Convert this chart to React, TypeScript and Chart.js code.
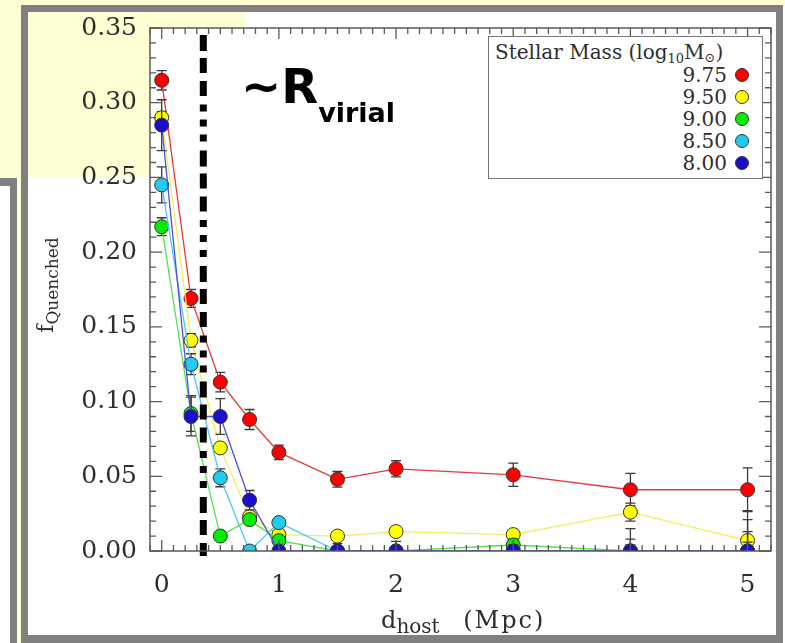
import React, { useEffect, useRef } from 'react';
import { Chart, registerables } from 'chart.js';

Chart.register(...registerables);

// ---------- data ----------
const distanceMpc = [0, 0.25, 0.5, 0.75, 1, 1.5, 2, 3, 4, 5];

const massLabels = ['9.75', '9.50', '9.00', '8.50', '8.00'];

const fq975 = [0.315, 0.169, 0.113, 0.088, 0.066, 0.048, 0.055, 0.051, 0.041, 0.041];
const err975 = [0.0065, 0.006, 0.0065, 0.0067, 0.0048, 0.0052, 0.0054, 0.0078, 0.0109, 0.0146];

const fq950 = [0.29, 0.141, 0.069, 0.023, 0.011, 0.01, 0.013, 0.011, 0.026, 0.007];
const err950 = [0.004, 0.0045, 0.003, 0.003, 0.002, 0.002, 0.002, 0.003, 0.006, 0.006];

const fq900 = [0.217, 0.092, 0.01, 0.021, 0.007, 0, 0, 0.004, 0, 0];
const err900 = [0.006, 0.012, 0.002, 0.003, 0.002, 0.002, 0.002, 0.004, 0.008, 0.021];

const fq850 = [0.245, 0.125, 0.049, 0, 0.019, 0, 0, 0, 0, 0];
const err850 = [0.012, 0.007, 0.006, 0.002, 0.003, 0.002, 0.002, 0.002, 0.004, 0.006];

const fq800 = [0.285, 0.09, 0.09, 0.034, 0, 0, 0, 0, 0, 0];
const err800 = [0.017, 0.013, 0.012, 0.0065, 0.003, 0.005, 0.0065, 0.004, 0.015, 0.027];

const seriesValues = [fq975, fq950, fq900, fq850, fq800];
const seriesErrors = [err975, err950, err900, err850, err800];
const seriesFill = ['#ff0000', '#ffff00', '#00ee00', '#22ccf0', '#1a10cc'];
const seriesLine = ['#e03a3a', '#f2ee5a', '#55e055', '#50c8ee', '#5050d8'];

const xTickValues = [0, 1, 2, 3, 4, 5];
const xTickLabels = ['0', '1', '2', '3', '4', '5'];
const yTickValues = [0, 0.05, 0.1, 0.15, 0.2, 0.25, 0.3, 0.35];
const yTickLabels = ['0.00', '0.05', '0.10', '0.15', '0.20', '0.25', '0.30', '0.35'];

const xRange = [-0.1, 5.2];
const yRange = [0, 0.35];
const xMinorStep = 0.1;
const yMinorStep = 0.01;

const rVirialMpc = 0.355;

// ---------- styling ----------
const SERIF = "'DejaVu Serif', serif";
const SANS_BOLD = "'DejaVu Sans', sans-serif";
const AXIS_COLOR = '#5a5a5a';
const TEXT_COLOR = '#2e2e2e';
const YELLOW = '#ffffd4';
const FRAME = '#808080';
const VIRIAL_DASH = [16, 7, 15, 8, 15, 8.5, 7, 8, 7, 8, 7, 9];

const plotBgPlugin = {
  id: 'plotBg',
  beforeDraw(chart: any) {
    const { ctx, chartArea: a } = chart;
    ctx.save();
    ctx.fillStyle = '#ffffff';
    ctx.fillRect(a.left, a.top, a.right - a.left, a.bottom - a.top);
    ctx.restore();
  },
};

const errorBarPlugin = {
  id: 'errorBars',
  beforeDatasetDraw(chart: any, args: any) {
    const ds = chart.data.datasets[args.index];
    const errs: number[] = ds.errors;
    if (!errs) return;
    const { ctx, chartArea: a } = chart;
    const xs = chart.scales.x;
    const ys = chart.scales.y;
    ctx.save();
    ctx.beginPath();
    ctx.rect(a.left, a.top, a.right - a.left, a.bottom - a.top);
    ctx.clip();
    ctx.strokeStyle = '#3a3a3a';
    ctx.lineWidth = 1.3;
    ds.data.forEach((p: any, i: number) => {
      const e = errs[i];
      const px = xs.getPixelForValue(p.x);
      const t = ys.getPixelForValue(p.y + e);
      const b = ys.getPixelForValue(p.y - e);
      ctx.beginPath();
      ctx.moveTo(px, t);
      ctx.lineTo(px, b);
      ctx.moveTo(px - 5, t);
      ctx.lineTo(px + 5, t);
      ctx.moveTo(px - 5, b);
      ctx.lineTo(px + 5, b);
      ctx.stroke();
    });
    ctx.restore();
  },
};

const framePlugin = {
  id: 'frameTicks',
  afterDatasetsDraw(chart: any) {
    const { ctx, chartArea: a } = chart;
    const xs = chart.scales.x;
    const ys = chart.scales.y;
    ctx.save();
    // R_virial dashed line
    const rx = xs.getPixelForValue(rVirialMpc);
    ctx.strokeStyle = '#000';
    ctx.lineWidth = 7;
    ctx.lineCap = 'butt';
    ctx.setLineDash(VIRIAL_DASH);
    ctx.beginPath();
    ctx.moveTo(rx, a.top + 7);
    ctx.lineTo(rx, a.bottom + 5);
    ctx.stroke();
    ctx.setLineDash([]);

    // box
    ctx.strokeStyle = AXIS_COLOR;
    ctx.lineWidth = 1.5;
    ctx.strokeRect(a.left, a.top, a.right - a.left, a.bottom - a.top);

    // x ticks (inward, bottom + top)
    ctx.lineWidth = 1.3;
    ctx.beginPath();
    const nx = Math.round((xRange[1] - xRange[0]) / xMinorStep);
    for (let k = 0; k <= nx; k++) {
      const v = xRange[0] + k * xMinorStep;
      const isMajor = xTickValues.some((t) => Math.abs(t - v) < 1e-6);
      const len = isMajor ? 11 : 6;
      const px = xs.getPixelForValue(v);
      ctx.moveTo(px, a.bottom);
      ctx.lineTo(px, a.bottom - len);
      ctx.moveTo(px, a.top);
      ctx.lineTo(px, a.top + len);
    }
    const ny = Math.round((yRange[1] - yRange[0]) / yMinorStep);
    for (let k = 0; k <= ny; k++) {
      const v = yRange[0] + k * yMinorStep;
      const isMajor = yTickValues.some((t) => Math.abs(t - v) < 1e-6);
      const len = isMajor ? 12 : 6;
      const py = ys.getPixelForValue(v);
      ctx.moveTo(a.left, py);
      ctx.lineTo(a.left + len, py);
      ctx.moveTo(a.right, py);
      ctx.lineTo(a.right - len, py);
    }
    ctx.stroke();
    ctx.restore();
  },
};

export default function App() {
  const canvasRef = useRef<HTMLCanvasElement | null>(null);

  useEffect(() => {
    const canvas = canvasRef.current;
    if (!canvas) return;
    const datasets = massLabels.map((label, s) => ({
      label,
      data: distanceMpc.map((x, i) => ({ x, y: seriesValues[s][i] })),
      errors: seriesErrors[s],
      borderColor: seriesLine[s],
      backgroundColor: seriesFill[s],
      borderWidth: 1.3,
      pointRadius: 7,
      pointBackgroundColor: seriesFill[s],
      pointBorderColor: '#333333',
      pointBorderWidth: 1,
      tension: 0,
      order: massLabels.length - 1 - s,
    }));

    const chart = new Chart(canvas, {
      type: 'line',
      data: { datasets: datasets as any },
      options: {
        responsive: false,
        devicePixelRatio: 1,
        animation: false,
        events: [],
        layout: { padding: { left: 60, right: 14, top: 15, bottom: 40 } },
        plugins: {
          legend: { display: false },
          tooltip: { enabled: false },
        },
        scales: {
          x: {
            type: 'linear',
            min: xRange[0],
            max: xRange[1],
            grid: { display: false, drawTicks: false },
            border: { display: false },
            afterBuildTicks: (scale: any) => {
              scale.ticks = xTickValues.map((value) => ({ value }));
            },
            afterFit: (scale: any) => {
              scale.height = 52;
            },
            ticks: {
              padding: 19,
              maxRotation: 0,
              autoSkip: false,
              color: TEXT_COLOR,
              font: { family: SERIF, size: 25 },
              callback: (_v: any, i: number) => xTickLabels[i],
            },
          },
          y: {
            type: 'linear',
            min: yRange[0],
            max: yRange[1],
            grid: { display: false, drawTicks: false },
            border: { display: false },
            afterBuildTicks: (scale: any) => {
              scale.ticks = yTickValues.map((value) => ({ value }));
            },
            afterFit: (scale: any) => {
              scale.width = 90;
            },
            ticks: {
              padding: 13,
              autoSkip: false,
              color: TEXT_COLOR,
              font: { family: SERIF, size: 25 },
              callback: (_v: any, i: number) => yTickLabels[i],
            },
          },
        },
      } as any,
      plugins: [plotBgPlugin, errorBarPlugin, framePlugin],
    });
    return () => chart.destroy();
  }, []);

  const legendRowY = [75, 97, 119, 141, 163];

  return (
    <div
      style={{
        position: 'fixed',
        left: 0,
        top: 0,
        width: 785,
        height: 643,
        background: '#ffffff',
        overflow: 'hidden',
        fontFamily: SERIF,
      }}
    >
      {/* slide background decorations */}
      <div style={{ position: 'absolute', left: 0, top: 0, width: 785, height: 6, background: YELLOW }} />
      <div style={{ position: 'absolute', left: 0, top: 0, width: 245, height: 178, background: YELLOW }} />
      <div style={{ position: 'absolute', left: 17, top: 178, width: 4, height: 465, background: YELLOW }} />
      <div style={{ position: 'absolute', left: 0, top: 178, width: 17, height: 8, background: FRAME }} />
      <div style={{ position: 'absolute', left: 10, top: 178, width: 7, height: 465, background: FRAME }} />
      <div
        style={{
          position: 'absolute',
          left: 21,
          top: 5,
          width: 762,
          height: 638,
          border: `7px solid ${FRAME}`,
          borderBottomWidth: 8,
          boxSizing: 'border-box',
        }}
      />

      <canvas
        ref={canvasRef}
        width={785}
        height={643}
        style={{ position: 'absolute', left: 0, top: 0, width: 785, height: 643 }}
      />

      {/* y axis title */}
      <div
        style={{
          position: 'absolute',
          left: 46 - 70,
          top: 285 - 15,
          width: 140,
          height: 30,
          lineHeight: '30px',
          textAlign: 'center',
          transform: 'rotate(-90deg)',
          whiteSpace: 'nowrap',
          color: TEXT_COLOR,
        }}
      >
        <span style={{ fontSize: 22 }}>f</span>
        <span style={{ fontSize: 17, position: 'relative', top: 5 }}>Quenched</span>
      </div>

      {/* x axis title */}
      <div
        style={{
          position: 'absolute',
          left: 381,
          top: 628 - 0.846 * 24,
          fontSize: 24,
          lineHeight: 1,
          whiteSpace: 'nowrap',
          color: TEXT_COLOR,
        }}
      >
        <span>d</span>
        <span style={{ fontSize: 20, position: 'relative', top: 5 }}>host</span>
        <span style={{ marginLeft: 14, letterSpacing: 2 }}> (Mpc)</span>
      </div>

      {/* R_virial annotation */}
      <div
        style={{
          position: 'absolute',
          left: 241,
          top: 103 - 0.846 * 48,
          fontFamily: SANS_BOLD,
          fontWeight: 'bold',
          fontSize: 48,
          lineHeight: 1,
          whiteSpace: 'nowrap',
          color: '#000',
        }}
      >
        <span>~R</span>
        <span style={{ fontSize: 27, position: 'relative', top: 19 }}>virial</span>
      </div>

      {/* legend */}
      <div
        style={{
          position: 'absolute',
          left: 488,
          top: 36,
          width: 275,
          height: 143,
          border: '1px solid #777',
          boxSizing: 'border-box',
          background: '#fff',
        }}
      />
      <div
        style={{
          position: 'absolute',
          left: 495,
          top: 59 - 0.846 * 20,
          fontSize: 20,
          lineHeight: 1,
          whiteSpace: 'nowrap',
          color: TEXT_COLOR,
        }}
      >
        Stellar Mass (log
        <span style={{ fontSize: 13, position: 'relative', top: 4 }}>10</span>M
        <span style={{ fontSize: 13, position: 'relative', top: 3 }}>⊙</span>)
      </div>
      {massLabels.map((lab, s) => (
        <React.Fragment key={lab}>
          <div
            style={{
              position: 'absolute',
              left: 600,
              width: 127,
              top: legendRowY[s] + 0.3645 * 20 - 0.846 * 20,
              fontSize: 20,
              lineHeight: 1,
              textAlign: 'right',
              color: TEXT_COLOR,
            }}
          >
            {lab}
          </div>
          <div
            style={{
              position: 'absolute',
              left: 741.5 - 7,
              top: legendRowY[s] - 7,
              width: 14,
              height: 14,
              borderRadius: '50%',
              background: seriesFill[s],
              border: '1px solid #333',
              boxSizing: 'border-box',
            }}
          />
        </React.Fragment>
      ))}
    </div>
  );
}
